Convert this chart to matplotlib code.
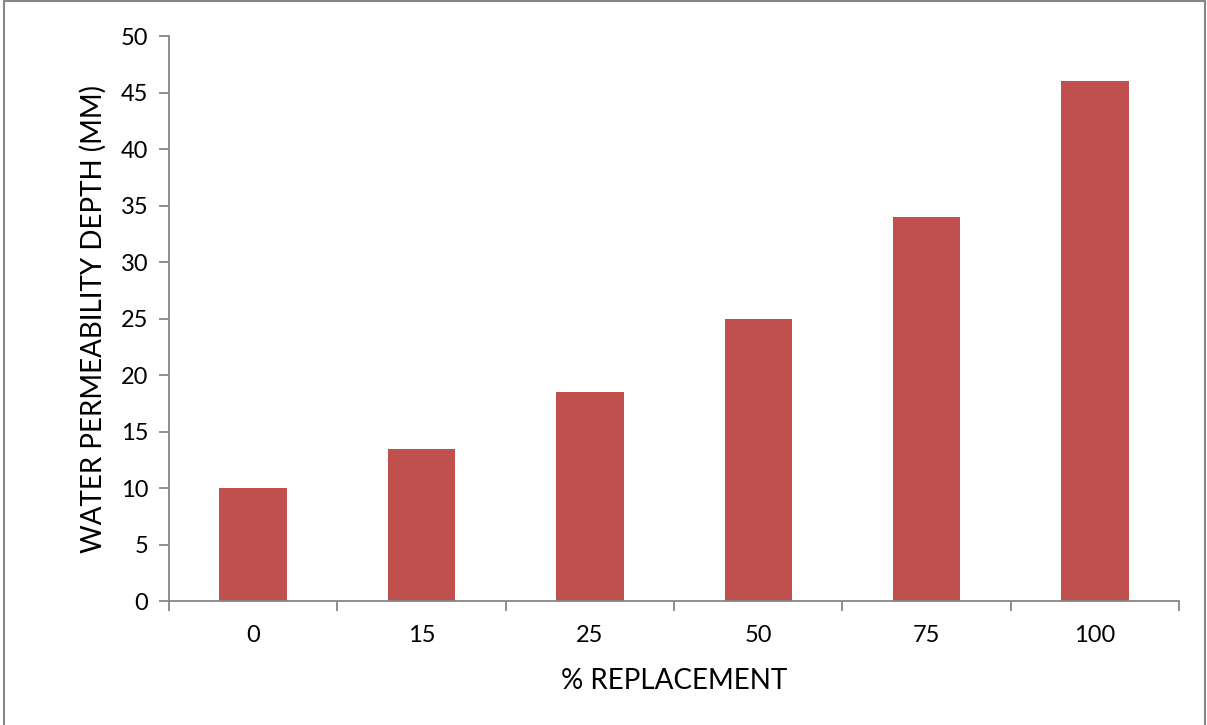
import numpy as np
import matplotlib.pyplot as plt
from matplotlib.patches import Rectangle

# % replacement levels and measured water permeability depth (mm)
categories = ["0", "15", "25", "50", "75", "100"]
depth_mm = [10, 13.5, 18.5, 25, 34, 46]

BAR_COLOR = "#C0504D"
AXIS_COLOR = "#868686"

plt.rcParams["font.family"] = ["Lato", "DejaVu Sans"]

fig = plt.figure(figsize=(12.07, 7.25), dpi=100)
ax = fig.add_axes([0.140, 0.171, 0.837, 0.779])

x = np.arange(len(categories))
ax.bar(x, depth_mm, width=0.4, color=BAR_COLOR, zorder=2)

ax.set_xlim(-0.5, len(categories) - 0.5)
ax.set_ylim(0, 50)
ax.set_yticks(np.arange(0, 51, 5))

# category labels centred, tick marks on the boundaries between them
ax.set_xticks(x)
ax.set_xticklabels(categories, fontsize=17)
ax.set_xticks(np.arange(-0.5, len(categories)), minor=True)
ax.tick_params(axis="x", which="major", length=0, pad=17)
ax.tick_params(axis="x", which="minor", length=7, width=1.3, color=AXIS_COLOR)
ax.tick_params(axis="y", length=7, width=1.3, color=AXIS_COLOR, labelsize=17, pad=8)

for side in ("top", "right"):
    ax.spines[side].set_visible(False)
for side in ("left", "bottom"):
    ax.spines[side].set_color(AXIS_COLOR)
    ax.spines[side].set_linewidth(1.3)

ax.set_xlabel("% REPLACEMENT", fontsize=20, labelpad=16)
ax.set_ylabel("WATER PERMEABILITY DEPTH (MM)", fontsize=20, labelpad=10)

# outer chart border
fig.patches.append(Rectangle((0.003, -0.01), 0.995, 1.008, transform=fig.transFigure,
                             fill=False, edgecolor=AXIS_COLOR, linewidth=1.5))

fig.savefig("out.png", dpi=100)
